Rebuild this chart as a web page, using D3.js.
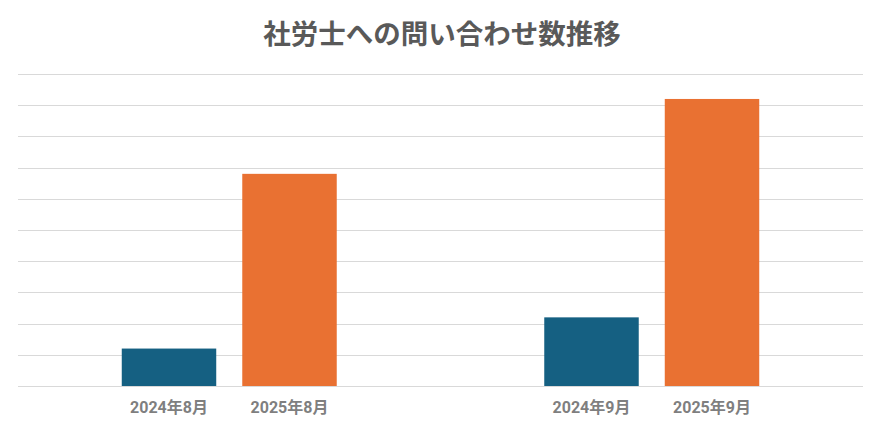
<!DOCTYPE html>
<html>
<head>
<meta charset="utf-8">
<script src="https://cdn.jsdelivr.net/npm/d3@7"></script>
<style>
  body { margin: 0; background: #fff; }
  text { font-family: Roboto, "Noto Sans CJK JP", sans-serif; }
</style>
</head>
<body>
<div id="chart"></div>
<script>
  //////////// *** DATA *** ////////////

  var title = "社労士への問い合わせ数推移";
  var months = ["8月", "9月"];
  var years = ["2024年", "2025年"];
  var values2024 = [12, 22];
  var values2025 = [68, 92];
  var yTicks = [0, 10, 20, 30, 40, 50, 60, 70, 80, 90, 100];
  var colors = ["#156082", "#E97132"];

  //////////// *** LAYOUT *** ////////////

  var W = 889, H = 435;
  var margin = {top: 74, right: 26, bottom: 49, left: 18},
      width = W - margin.left - margin.right,
      height = H - margin.top - margin.bottom;

  var svg = d3.select("#chart").append("svg")
    .attr("width", W)
    .attr("height", H);

  svg.append("text")
    .attr("x", 442)
    .attr("y", 44)
    .attr("text-anchor", "middle")
    .attr("font-family", "'Noto Sans CJK JP', sans-serif")
    .attr("font-weight", "bold")
    .attr("font-size", 27.5)
    .attr("fill", "#595959")
    .text(title);

  var g = svg.append("g")
    .attr("transform", "translate(" + margin.left + "," + margin.top + ")");

  var x0 = d3.scaleBand().domain(months).range([0, width]);
  var x1 = d3.scaleBand().domain(years).range([0, x0.bandwidth()])
    .paddingInner(0.216).paddingOuter(0.861);
  var y = d3.scaleLinear().domain([0, 100]).range([height, 0]);

  // gridlines
  g.selectAll(".grid")
    .data(yTicks)
    .enter().append("line")
    .attr("x1", 0)
    .attr("x2", width)
    .attr("y1", function(d) { return Math.round(y(d)) + 0.5; })
    .attr("y2", function(d) { return Math.round(y(d)) + 0.5; })
    .attr("stroke", "#D9D9D9")
    .attr("stroke-width", 1);

  var rows = [];
  months.forEach(function(m, i) {
    rows.push({month: m, year: years[0], value: values2024[i], c: colors[0]});
    rows.push({month: m, year: years[1], value: values2025[i], c: colors[1]});
  });

  g.selectAll(".bar")
    .data(rows)
    .enter().append("rect")
    .attr("x", function(d) { return x0(d.month) + x1(d.year); })
    .attr("width", x1.bandwidth())
    .attr("y", function(d) { return y(d.value); })
    .attr("height", function(d) { return y(0) - y(d.value); })
    .attr("fill", function(d) { return d.c; });

  g.selectAll(".lbl")
    .data(rows)
    .enter().append("text")
    .attr("x", function(d) { return x0(d.month) + x1(d.year) + x1.bandwidth() / 2; })
    .attr("y", height + 27)
    .attr("text-anchor", "middle")
    .attr("font-weight", "bold")
    .attr("font-size", 16)
    .attr("fill", "#7F7F7F")
    .text(function(d) { return d.year + d.month; });
</script>
</body>
</html>
